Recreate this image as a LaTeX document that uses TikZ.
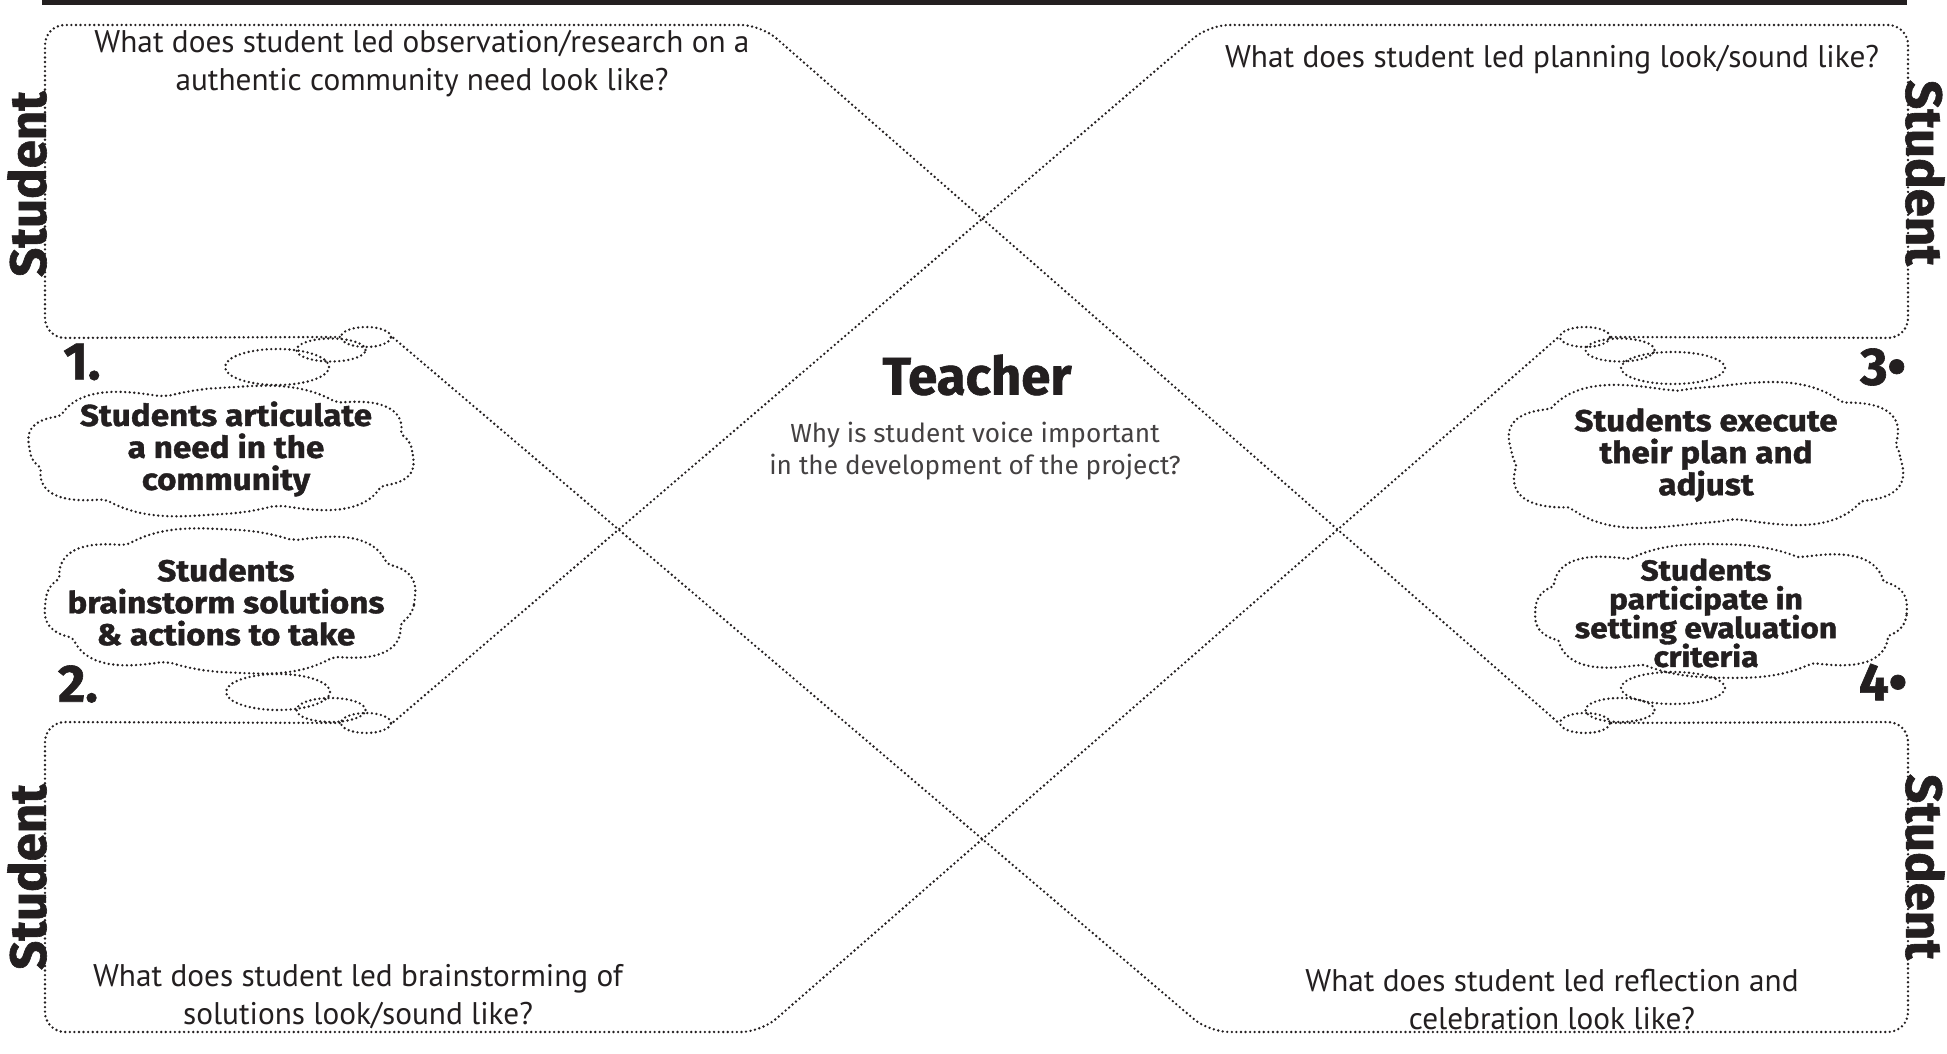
\documentclass[tikz,border=0pt]{standalone}
\usepackage{fontspec}
\setmainfont{Fira Sans}[BoldFeatures={FakeBold=1.2}]
\newfontfamily\askfont{PT Sans}
\newfontfamily\ideafont{Fira Sans}[FakeStretch=1.1, BoldFeatures={FakeBold=1.3}]
\usetikzlibrary{shapes.geometric}
\definecolor{ink}{HTML}{231F20}
\lineskiplimit=-4pt

% bumpy blob: centre x, centre y, half width, half height, bumps, phase
\newcommand\blob[6]{%
  \draw[dots] plot[domain=1.5:358.5, samples=120]
    ({#1+(#3-11+11*abs(sin(#5*(\x+#6)/2)))*cos(\x)*pow(abs(cos(\x)),-0.25)},
     {#2+(#4-11+11*abs(sin(#5*(\x+#6)/2)))*sin(\x)*pow(abs(sin(\x)),-0.25)}) -- cycle;}

\begin{document}
\begin{tikzpicture}[x=0.1mm, y=-0.1mm, text=ink,
  dots/.style={draw=ink, line width=0.75pt, line cap=round, dash pattern=on 0pt off 1.3pt},
  puff/.style={dots, ellipse, inner sep=0pt},
  idea/.style={align=center, font=\ideafont\bfseries\fontsize{8.6}{9.1}\selectfont},
  ask/.style={align=center, font=\askfont\fontsize{8.9}{10.8}\selectfont},
  side/.style={font=\bfseries\fontsize{14.5}{16}\selectfont},
  num/.style={font=\bfseries\fontsize{15}{16}\selectfont}]

\useasboundingbox (0,0) rectangle (1947,1054);
\fill[ink] (42,0) rectangle (1907,5);

% box corners
\coordinate (tlA) at (45,338);
\coordinate (tlB) at (45,25);
\coordinate (tlC) at (761,25);
\coordinate (trA) at (1908,338);
\coordinate (trB) at (1908,25);
\coordinate (trC) at (1209,25);
\coordinate (blA) at (45,722);
\coordinate (blB) at (45,1032);
\coordinate (blC) at (761,1032);
\coordinate (brA) at (1908,722);
\coordinate (brB) at (1908,1032);
\coordinate (brC) at (1209,1032);

% clouds
\blob{221}{451}{194}{66}{8}{12}
\node[idea] (t1) at (226,449) {Students articulate\\a need in the\\community};

\blob{230}{601}{186}{73}{8}{30}
\node[idea] (t2) at (226,602) {Students\\brainstorm solutions\\\& actions to take};

\blob{1706}{455}{201}{75}{8}{5}
\node[idea] (t3) at (1706,455) {Students execute\\their plan and\\adjust};

\blob{1721}{611}{186}{67}{8}{25}
\node[idea, font=\ideafont\bfseries\fontsize{8.2}{8.2}\selectfont] (t4) at (1706,613) {Students\\participate in\\setting evaluation\\criteria};

% thought bubbles
\node[puff, minimum width=10.4mm, minimum height=3.6mm] (l1) at (277,367) {};
\node[puff, minimum width=6.9mm, minimum height=2.3mm] (m1) at (331,350) {};
\node[puff, minimum width=5mm, minimum height=2mm] (s1) at (366,337) {};

\node[puff, minimum width=10.4mm, minimum height=3.6mm] (l2) at (278,692) {};
\node[puff, minimum width=6.9mm, minimum height=2.4mm] (m2) at (331,710) {};
\node[puff, minimum width=5mm, minimum height=2mm] (s2) at (366,723) {};

\node[puff, minimum width=10.4mm, minimum height=3.2mm] (l3) at (1673,368) {};
\node[puff, minimum width=6.9mm, minimum height=2.3mm] (m3) at (1620,350) {};
\node[puff, minimum width=5mm, minimum height=2mm] (s3) at (1585,337) {};

\node[puff, minimum width=10.4mm, minimum height=3.2mm] (l4) at (1673,688) {};
\node[puff, minimum width=6.9mm, minimum height=2.4mm] (m4) at (1620,710) {};
\node[puff, minimum width=5mm, minimum height=2mm] (s4) at (1585,723) {};

% the four boxes, crossing in the middle
\draw[dots, rounded corners=2mm] (s1.west) -- (tlA) -- (tlB) -- (tlC) -- (s4.west);
\draw[dots, rounded corners=2mm] (s3.east) -- (trA) -- (trB) -- (trC) -- (s2.east);
\draw[dots, rounded corners=2mm] (s2.west) -- (blA) -- (blB) -- (blC) -- (s3.west);
\draw[dots, rounded corners=2mm] (s4.east) -- (brA) -- (brB) -- (brC) -- (s1.east);

% questions
\node[ask] (q1) at (422,64) {What does student led observation/research on a\\authentic community need look like?};
\node[ask] (q2) at (1552,60) {What does student led planning look/sound like?};
\node[ask] (q3) at (358,997) {What does student led brainstorming of\\solutions look/sound like?};
\node[ask] (q4) at (1552,1000) {What does student led reflection and\\celebration look like?};

\node[font=\bfseries\fontsize{15}{17}\selectfont] (teacher) at (977,375) {Teacher};
\node[align=center, font=\fontsize{7.45}{9.2}\selectfont, text=ink!85] (why) at (975,451) {Why is student voice important\\in the development of the project?};

\node[side, rotate=90] (st1) at (27,184) {Student};
\node[side, rotate=90] (st2) at (27,877) {Student};
\node[side, rotate=-90] (st3) at (1925,173) {Student};
\node[side, rotate=-90] (st4) at (1925,867) {Student};

\node[num] (n1) at (82,362) {1.};
\node[num] (n2) at (78,684) {2.};
\node[num] (n3) at (1883,367) {3•};% mid dot on the right
\node[num] (n4) at (1883,682) {4•};
\end{tikzpicture}
\end{document}
